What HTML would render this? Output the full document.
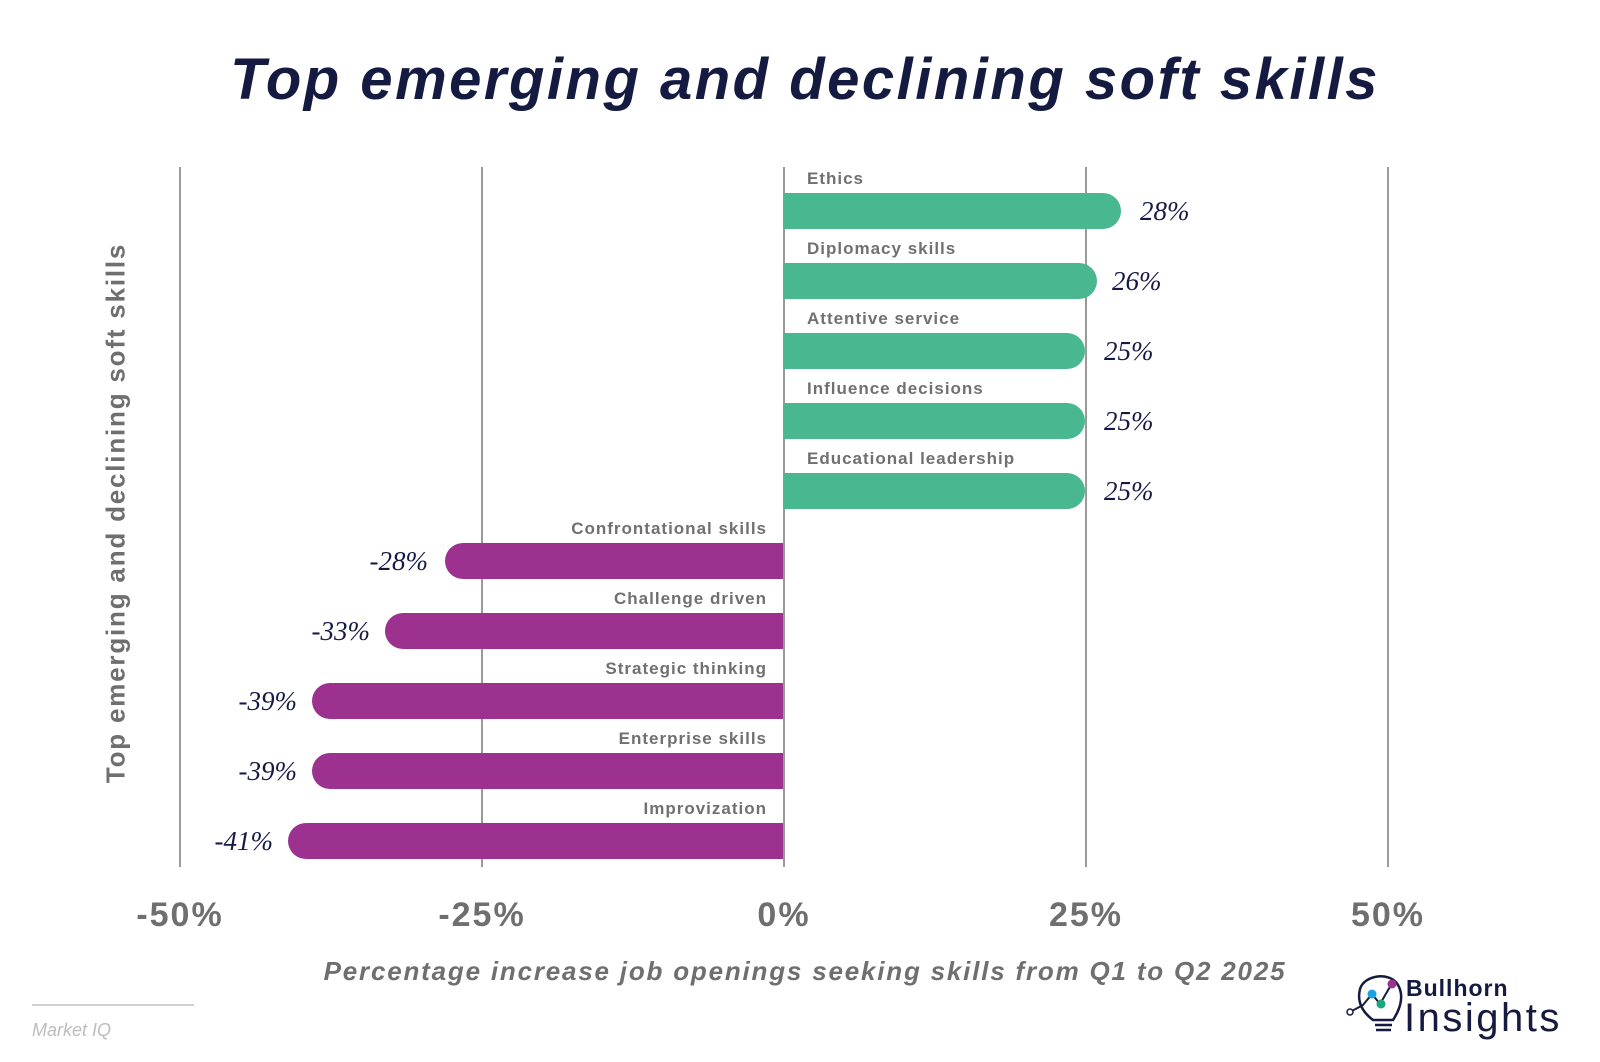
<!DOCTYPE html>
<html><head><meta charset="utf-8"><style>
body{margin:0;width:1600px;height:1062px;background:#fff;overflow:hidden;position:relative;font-family:"Liberation Sans",sans-serif}
.a{position:absolute}
.grid{position:absolute;top:167px;height:700px;width:2px;background:#9a9a9a}
.bar{position:absolute;height:36px}
.pos{background:#49b790;border-radius:0 18px 18px 0;left:783px}
.neg{background:#9c3190;border-radius:18px 0 0 18px}
.lab{position:absolute;font-weight:bold;font-size:17px;color:#707070;white-space:nowrap;letter-spacing:1px}
.val{position:absolute;font-family:"Liberation Serif",serif;font-style:italic;font-size:27px;color:#141a45;white-space:nowrap}
.tick{position:absolute;top:896px;font-weight:bold;font-size:34px;color:#6f6f6f;width:200px;text-align:center;letter-spacing:2px}
</style></head><body>
<div class="a" style="left:0;width:1610px;top:46px;text-align:center;font-size:58px;font-weight:bold;font-style:italic;color:#141a40;letter-spacing:2.5px">Top emerging and declining soft skills</div>
<div class="grid" style="left:179px"></div>
<div class="grid" style="left:481px"></div>
<div class="grid" style="left:783px"></div>
<div class="grid" style="left:1085px"></div>
<div class="grid" style="left:1387px"></div>

<div class="lab" style="left:807px;top:169px">Ethics</div>
<div class="bar pos" style="top:193px;width:338px"></div>
<div class="val" style="left:1140px;top:196px">28%</div>
<div class="lab" style="left:807px;top:239px">Diplomacy skills</div>
<div class="bar pos" style="top:263px;width:314px"></div>
<div class="val" style="left:1112px;top:266px">26%</div>
<div class="lab" style="left:807px;top:309px">Attentive service</div>
<div class="bar pos" style="top:333px;width:302px"></div>
<div class="val" style="left:1104px;top:336px">25%</div>
<div class="lab" style="left:807px;top:379px">Influence decisions</div>
<div class="bar pos" style="top:403px;width:302px"></div>
<div class="val" style="left:1104px;top:406px">25%</div>
<div class="lab" style="left:807px;top:449px">Educational leadership</div>
<div class="bar pos" style="top:473px;width:302px"></div>
<div class="val" style="left:1104px;top:476px">25%</div>

<div class="lab" style="right:833px;top:519px">Confrontational skills</div>
<div class="bar neg" style="top:543px;left:445px;width:338px"></div>
<div class="val" style="right:1172px;top:546px">-28%</div>
<div class="lab" style="right:833px;top:589px">Challenge driven</div>
<div class="bar neg" style="top:613px;left:385px;width:398px"></div>
<div class="val" style="right:1230px;top:616px">-33%</div>
<div class="lab" style="right:833px;top:659px">Strategic thinking</div>
<div class="bar neg" style="top:683px;left:312px;width:471px"></div>
<div class="val" style="right:1303px;top:686px">-39%</div>
<div class="lab" style="right:833px;top:729px">Enterprise skills</div>
<div class="bar neg" style="top:753px;left:312px;width:471px"></div>
<div class="val" style="right:1303px;top:756px">-39%</div>
<div class="lab" style="right:833px;top:799px">Improvization</div>
<div class="bar neg" style="top:823px;left:288px;width:495px"></div>
<div class="val" style="right:1327px;top:826px">-41%</div>

<div class="tick" style="left:80px">-50%</div>
<div class="tick" style="left:382px">-25%</div>
<div class="tick" style="left:684px">0%</div>
<div class="tick" style="left:986px">25%</div>
<div class="tick" style="left:1288px">50%</div>
<div class="a" style="left:0;width:1610px;top:956px;text-align:center;font-size:26px;font-weight:bold;font-style:italic;color:#6f6f6f;letter-spacing:1.8px">Percentage increase job openings seeking skills from Q1 to Q2 2025</div>
<div class="a" style="left:116px;top:513px;transform:translate(-50%,-50%) rotate(-90deg);white-space:nowrap;font-size:26px;font-weight:bold;color:#6f6f6f;letter-spacing:1.8px">Top emerging and declining soft skills</div>

<div class="a" style="left:32px;top:1004px;width:162px;height:2px;background:#d0d0d0"></div>
<div class="a" style="left:32px;top:1020px;font-size:18px;font-style:italic;color:#bdbdbd">Market IQ</div>

<svg class="a" style="left:1345px;top:965px" width="80" height="80" viewBox="0 0 80 80">
<path d="M28 55 C16 46 12 36 15 24 C19 10 45 6 53 20 C60 32 54 46 48 55 Z" fill="none" stroke="#141a40" stroke-width="2.5"/>
<line x1="30" y1="60" x2="47" y2="60" stroke="#141a40" stroke-width="2.5"/>
<line x1="31" y1="65" x2="46" y2="65" stroke="#141a40" stroke-width="2.5"/>
<polyline points="5,47 18,40 27,29 35,39 46,20" fill="none" stroke="#141a40" stroke-width="2"/>
<circle cx="5" cy="47" r="3" fill="#fff" stroke="#141a40" stroke-width="1.5"/>
<circle cx="27" cy="29" r="4.5" fill="#1aa3e0"/>
<circle cx="36" cy="39" r="4.5" fill="#18a87a"/>
<circle cx="47" cy="19" r="4.5" fill="#9c3190"/>
</svg>
<div class="a" style="left:1406px;top:975px;font-size:23px;font-weight:bold;color:#141a40;letter-spacing:1px">Bullhorn</div>
<div class="a" style="left:1404px;top:996px;font-size:40px;color:#141a40;letter-spacing:2.5px">Insights</div>
</body></html>
